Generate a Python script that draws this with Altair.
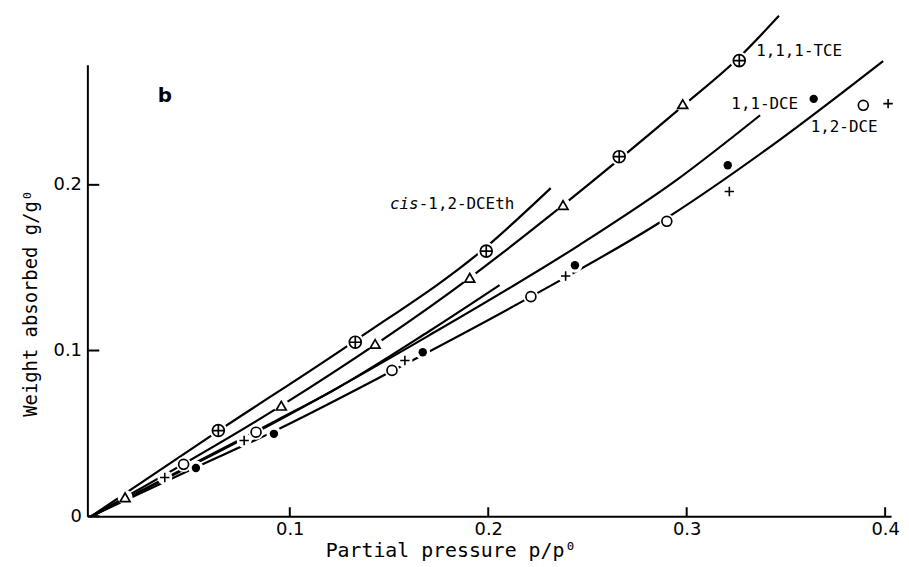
import altair as alt
import pandas as pd

# ---------------- data ----------------
x_ticks = [0.1, 0.2, 0.3, 0.4]
y_ticks = [0.0, 0.1, 0.2]

# hand-drawn curves
cis_x = [0, 0.064, 0.133, 0.199, 0.2315]
cis_y = [0, 0.0515, 0.106, 0.1625, 0.198]

tce_x = [0, 0.0957, 0.1907, 0.2377, 0.298, 0.3265, 0.3465]
tce_y = [0, 0.0667, 0.1439, 0.1878, 0.2475, 0.277, 0.302]

dce11_x = [0, 0.100, 0.170, 0.2457, 0.295, 0.337]
dce11_y = [0, 0.0615, 0.109, 0.1635, 0.203, 0.242]

short_x = [0, 0.094, 0.1223, 0.170, 0.2057]
short_y = [0, 0.0582, 0.0762, 0.1115, 0.1395]

dce12_x = [0, 0.0527, 0.092, 0.1515, 0.2215, 0.290, 0.345, 0.399]
dce12_y = [0, 0.0295, 0.0512, 0.0876, 0.1325, 0.180, 0.2255, 0.2747]

# measured points by symbol
pc_x = [0.064, 0.133, 0.199, 0.266, 0.3265]          # circle with plus
pc_y = [0.0517, 0.105, 0.160, 0.217, 0.275]
tri_x = [0.017, 0.0957, 0.143, 0.1907, 0.2377, 0.298]  # open triangle
tri_y = [0.0114, 0.0667, 0.104, 0.1439, 0.1878, 0.2487]
oc_x = [0.0465, 0.083, 0.1515, 0.2215, 0.290, 0.389]   # open circle
oc_y = [0.0313, 0.0507, 0.088, 0.1325, 0.178, 0.248]
cr_x = [0.037, 0.077, 0.158, 0.239, 0.3215, 0.4015]    # plus sign
cr_y = [0.0234, 0.0457, 0.094, 0.145, 0.196, 0.249]
fc_x = [0.0527, 0.092, 0.167, 0.2437, 0.3207, 0.364]   # filled circle
fc_y = [0.0291, 0.0497, 0.099, 0.1515, 0.2118, 0.2519]

label_text = ["1,1,1-TCE", "1,1-DCE", "1,2-DCE"]
label_x = [0.335, 0.3225, 0.3625]
label_y = [0.2778, 0.2455, 0.2317]
panel_text = ["b"]
panel_x = [0.0335]
panel_y = [0.2503]
cis_label_x = [0.1505]
cis_label_y = [0.1856]

# ---------------- build tables ----------------
def curve(name, xs, ys):
    return pd.DataFrame({"series": name, "x": xs, "y": ys, "o": range(len(xs))})

lines_df = pd.concat([
    curve("cis-1,2-DCEth", cis_x, cis_y),
    curve("1,1,1-TCE", tce_x, tce_y),
    curve("1,1-DCE", dce11_x, dce11_y),
    curve("short", short_x, short_y),
    curve("1,2-DCE", dce12_x, dce12_y),
])

def pts(xs, ys):
    return pd.DataFrame({"x": xs, "y": ys})

pc_df = pts(pc_x, pc_y)
tri_df = pts(tri_x, tri_y)
oc_df = pts(oc_x, oc_y)
cr_df = pts(cr_x, cr_y)
fc_df = pts(fc_x, fc_y)
other_df = pd.concat([tri_df, oc_df, cr_df, fc_df])
labels_df = pd.DataFrame({"label": label_text, "x": label_x, "y": label_y})
panel_df = pd.DataFrame({"label": panel_text, "x": panel_x, "y": panel_y})
cis_df = pd.DataFrame({"x": cis_label_x, "y": cis_label_y})
xt_df = pd.DataFrame({"x": x_ticks})
yt_df = pd.DataFrame({"y": y_ticks})

W, H = 810, 455
MONO = "DejaVu Sans Mono"
SANS = "DejaVu Sans"

xscale = alt.Scale(domain=[-0.002, 0.403], nice=False, zero=False)
yscale = alt.Scale(domain=[0, 0.2725], nice=False, zero=False)

xaxis = alt.Axis(values=x_ticks, format=".1f", ticks=False, grid=False,
                 domainColor="black", domainWidth=2,
                 labelFont=SANS, labelFontSize=18, labelColor="black", labelPadding=4,
                 title="Partial pressure p/p⁰", titleFont=MONO, titleFontSize=20,
                 titleFontWeight="normal", titleColor="black",
                 titleX=366, titleY=41, titleBaseline="alphabetic")
yaxis = alt.Axis(values=y_ticks, ticks=False, grid=False,
                 labelExpr="datum.value == 0 ? '0' : format(datum.value, '.1f')",
                 domainColor="black", domainWidth=2,
                 labelFont=SANS, labelFontSize=18, labelColor="black", labelPadding=6,
                 title="Weight absorbed g/g⁰", titleFont=MONO, titleFontSize=19,
                 titleFontWeight="normal", titleColor="black",
                 titleX=-51, titleY=240, titleBaseline="alphabetic")

def X():
    return alt.X("x:Q", scale=xscale, axis=xaxis)

def Y():
    return alt.Y("y:Q", scale=yscale, axis=yaxis)

lines = alt.Chart(lines_df).mark_line(color="black", strokeWidth=2.2, interpolate="monotone").encode(
    x=X(), y=Y(), detail="series:N", order="o:Q")

halo_pc = alt.Chart(pc_df).mark_circle(color="white", opacity=1, size=330).encode(x=X(), y=Y())
halo_other = alt.Chart(other_df).mark_circle(color="white", opacity=1, size=230).encode(x=X(), y=Y())

circle_plus = "M-1,0A1,1 0 1,1 1,0A1,1 0 1,1 -1,0ZM-1,0L1,0M0,-1L0,1"
plus_path = "M-1,0L1,0M0,-1L0,1"

m_pc = alt.Chart(pc_df).mark_point(shape=circle_plus, size=144, filled=False,
                                   color="black", strokeWidth=1.7, opacity=1).encode(x=X(), y=Y())
m_tri = alt.Chart(tri_df).mark_point(shape="triangle-up", size=100, filled=False,
                                     color="black", strokeWidth=1.7, opacity=1).encode(x=X(), y=Y())
m_oc = alt.Chart(oc_df).mark_point(shape="circle", size=100, filled=False,
                                   color="black", strokeWidth=1.7, opacity=1).encode(x=X(), y=Y())
m_cr = alt.Chart(cr_df).mark_point(shape=plus_path, size=90, filled=False,
                                   color="black", strokeWidth=1.6, opacity=1).encode(x=X(), y=Y())
m_fc = alt.Chart(fc_df).mark_point(shape="circle", size=72, filled=True,
                                   color="black", opacity=1).encode(x=X(), y=Y())

texts = alt.Chart(labels_df).mark_text(align="left", baseline="alphabetic", font=MONO,
                                       fontSize=16, color="black").encode(x=X(), y=Y(), text="label:N")
panel = alt.Chart(panel_df).mark_text(align="left", baseline="alphabetic", font=SANS,
                                      fontSize=20, fontWeight="bold", color="black").encode(
    x=X(), y=Y(), text="label:N")
cis_a = alt.Chart(cis_df).mark_text(align="left", baseline="alphabetic", font=MONO,
                                    fontSize=16, fontStyle="italic", color="black",
                                    text="cis").encode(x=X(), y=Y())
cis_b = alt.Chart(cis_df).mark_text(align="left", baseline="alphabetic", font=MONO,
                                    fontSize=16, color="black", dx=29,
                                    text="-1,2-DCEth").encode(x=X(), y=Y())

yticks = alt.Chart(yt_df).mark_rule(color="black", strokeWidth=2).encode(
    y=Y(), x=alt.value(0), x2=alt.value(12))
xticks = alt.Chart(xt_df).mark_rule(color="black", strokeWidth=2).encode(
    x=X(), y=alt.value(H), y2=alt.value(H - 9))

chart = alt.layer(
    lines, halo_pc, halo_other, m_pc, m_tri, m_oc, m_cr, m_fc,
    texts, panel, cis_a, cis_b, yticks, xticks
).properties(
    width=W, height=H,
    autosize=alt.AutoSizeParams(type="none"),
    padding={"left": 80, "top": 55, "right": 10, "bottom": 44},
    background="white",
).configure_view(stroke=None)

chart.save("out.html", embed_options={"renderer": "svg", "actions": False})
